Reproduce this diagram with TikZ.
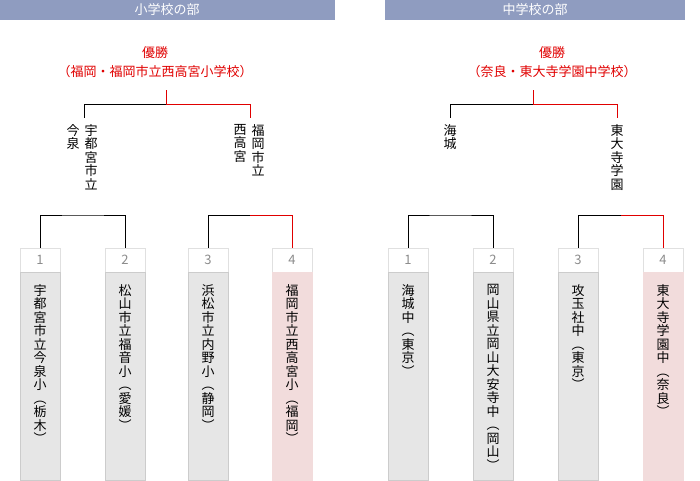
\documentclass[tikz,border=0pt]{standalone}
\usepackage{fontspec}
\setmainfont{Noto Sans CJK JP}
\usepackage{tikz}
\definecolor{headblue}{HTML}{8F9CC0}
\definecolor{boxgray}{HTML}{E6E6E6}
\definecolor{boxpink}{HTML}{F2DCDC}
\definecolor{winred}{HTML}{E00000}
\tikzset{
  numbox/.style={draw=black!12, fill=white, minimum width=40pt, minimum height=24pt, inner sep=0, text=black!45, font=\fontsize{13}{13}\selectfont},
  namebox/.style={draw=black!20, fill=boxgray, minimum width=40pt, minimum height=208pt, anchor=north, inner sep=0},
  winbox/.style={namebox, fill=boxpink, draw=boxpink},
  vtext/.style={anchor=north, align=center, inner sep=0, font=\fontsize{13}{13.5}\selectfont},
  won/.style={winred, thick},
  lost/.style={black, thick}
}
\begin{document}
\begin{tikzpicture}[x=1pt, y=-1pt]
\useasboundingbox (0,0) rectangle (700,480);

% headers
\fill[headblue] (0,0) rectangle (335,20);
\fill[headblue] (385,0) rectangle (685,20);
\node[white, font=\fontsize{13}{13}\selectfont] (hl) at (167,10) {小学校の部};
\node[white, font=\fontsize{13}{13}\selectfont] (hr) at (535,10) {中学校の部};

%
% elementary
%
\node[winred, align=center, font=\fontsize{13}{19}\selectfont] (winl) at (155,62) {優勝\\（福岡・福岡市立西高宮小学校）};
\coordinate (tl) at (166,90);
\coordinate (tlm) at (166,104);
\coordinate (tla) at (84,118);
\coordinate (tlb) at (250,118);
\draw[won] (tl) -- (tlm) -- (tlm -| tlb) -- (tlb);
\draw[lost] (tlm) -- (tlm -| tla) -- (tla);

\node[vtext] (fa1) at (91,124) {宇\\都\\宮\\市\\立};
\node[vtext] (fa2) at (73,124) {今\\泉};
\node[vtext] (fb1) at (258,124) {福\\岡\\市\\立};
\node[vtext] (fb2) at (240,124) {西\\高\\宮};

% round one
\foreach \n/\x in {1/40,2/125,3/208,4/292}
  \node[numbox] (nl\n) at (\x,260) {\n};
\draw[lost] (nl1.north) |- (83,215) -| (nl2.north);
\draw[lost] (nl3.north) |- (250,215);
\draw[won] (250,215) -| (nl4.north);

\node[namebox] (bl1) at (nl1.south) {};
\node[namebox] (bl2) at (nl2.south) {};
\node[namebox] (bl3) at (nl3.south) {};
\node[winbox] (bl4) at (nl4.south) {};
\node[vtext] at ([yshift=-12]bl1.north) {宇\\都\\宮\\市\\立\\今\\泉\\小\\︵\\栃\\木\\︶};
\node[vtext] at ([yshift=-12]bl2.north) {松\\山\\市\\立\\福\\音\\小\\︵\\愛\\媛\\︶};
\node[vtext] at ([yshift=-12]bl3.north) {浜\\松\\市\\立\\内\\野\\小\\︵\\静\\岡\\︶};
\node[vtext] at ([yshift=-12]bl4.north) {福\\岡\\市\\立\\西\\高\\宮\\小\\︵\\福\\岡\\︶};

%
% junior high
%
\node[winred, align=center, font=\fontsize{13}{19}\selectfont] (winr) at (552,62) {優勝\\（奈良・東大寺学園中学校）};
\coordinate (tr) at (533,90);
\coordinate (trm) at (533,104);
\coordinate (tra) at (450,118);
\coordinate (trb) at (617,118);
\draw[won] (tr) -- (trm) -- (trm -| trb) -- (trb);
\draw[lost] (trm) -- (trm -| tra) -- (tra);

\node[vtext] (fc) at (450,124) {海\\城};
\node[vtext] (fd) at (617,124) {東\\大\\寺\\学\\園};

\foreach \n/\x in {1/408,2/493,3/578,4/663}
  \node[numbox] (nr\n) at (\x,260) {\n};
\draw[lost] (nr1.north) |- (450,215) -| (nr2.north);
\draw[lost] (nr3.north) |- (621,215);
\draw[won] (621,215) -| (nr4.north);

\node[namebox] (br1) at (nr1.south) {};
\node[namebox] (br2) at (nr2.south) {};
\node[namebox] (br3) at (nr3.south) {};
\node[winbox] (br4) at (nr4.south) {};
\node[vtext] at ([yshift=-12]br1.north) {海\\城\\中\\︵\\東\\京\\︶};
\node[vtext] at ([yshift=-12]br2.north) {岡\\山\\県\\立\\岡\\山\\大\\安\\寺\\中\\︵\\岡\\山\\︶};
\node[vtext] at ([yshift=-12]br3.north) {攻\\玉\\社\\中\\︵\\東\\京\\︶};
\node[vtext] at ([yshift=-12]br4.north) {東\\大\\寺\\学\\園\\中\\︵\\奈\\良\\︶};

\end{tikzpicture}
\end{document}
